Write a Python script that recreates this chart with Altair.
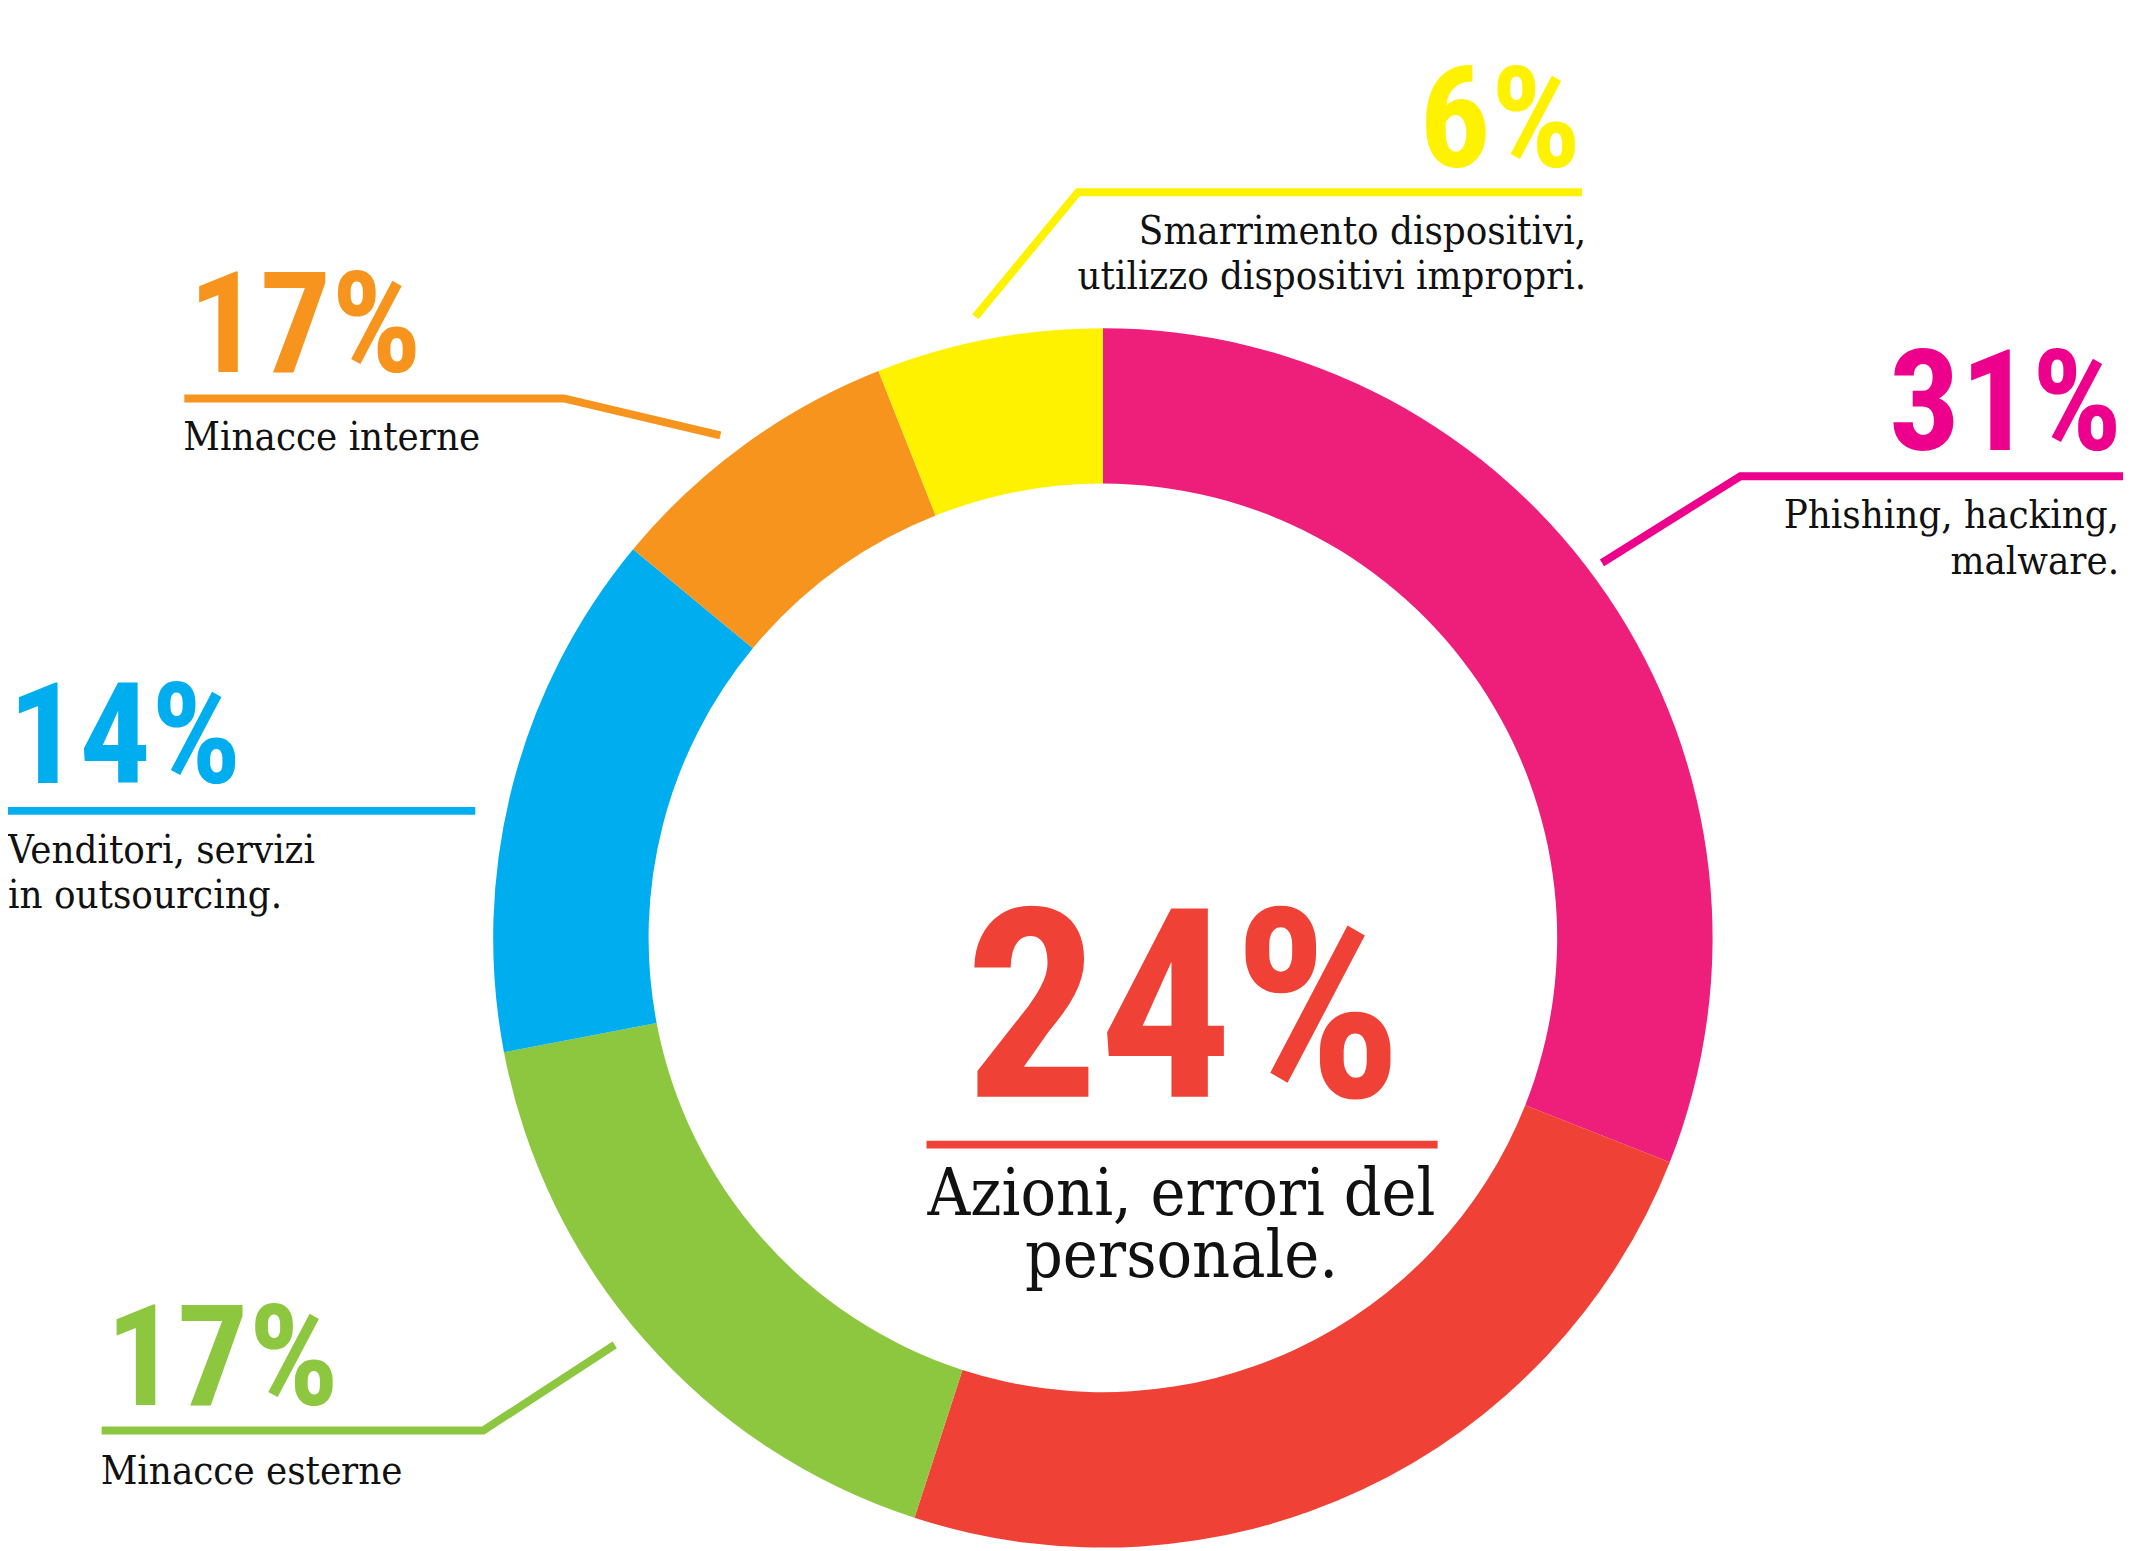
import altair as alt
import pandas as pd

# ---- data ----
categories = ["phishing", "personale", "esterne", "venditori", "interne", "smarrimento"]
arc_values = [31, 24, 17, 14, 8, 6]          # drawn share of the ring
label_texts = ["31%", "24%", "17%", "14%", "17%", "6%"]   # printed labels
descriptions = [
    "Phishing, hacking,\nmalware.",
    "Azioni, errori del\npersonale.",
    "Minacce esterne",
    "Venditori, servizi\nin outsourcing.",
    "Minacce interne",
    "Smarrimento dispositivi,\nutilizzo dispositivi impropri.",
]
arc_colors = ["#ED1F7B", "#EF4136", "#8DC63F", "#00AEEF", "#F7941E", "#FFF200"]
label_colors = ["#EC008C", "#EF4136", "#8DC63F", "#00AEEF", "#F7941E", "#FFF200"]

# ---- layout (pixels in the view) ----
W, H = 2128, 1543
CX, CY = 1099, 930.5
R_OUT, R_IN = 612, 456

pct_pos = {  # x, y(baseline), align, size
    "phishing": (2122, 441, "right", 142),
    "personale": (1180, 1090, "center", 266),
    "esterne": (98, 1399, "left", 142),
    "venditori": (0, 775, "left", 142),
    "interne": (181, 362, "left", 142),
    "smarrimento": (1579, 157, "right", 142),
}
desc_pos = {  # x, y(first baseline), align, size, line height
    "phishing": (2119, 519, "right", 40, 46),
    "personale": (1178, 1209, "center", 66, 62),
    "esterne": (93, 1479, "left", 40, 45),
    "venditori": (0, 855, "left", 40, 45),
    "interne": (176, 441, "left", 40, 45),
    "smarrimento": (1584, 234, "right", 40, 45),
}
leaders = {
    "phishing": [(2123, 467), (1739, 467), (1600, 554)],
    "personale": [(922, 1138), (1435, 1138)],
    "esterne": [(94, 1425), (477, 1425), (609, 1339)],
    "venditori": [(0, 803), (469, 803)],
    "interne": [(177, 389), (558, 389), (715, 426)],
    "smarrimento": [(1580, 182), (1074, 182), (971, 307)],
}

arc_df = pd.DataFrame({
    "cat": categories,
    "value": arc_values,
    "order": list(range(len(categories))),
    "color": arc_colors,
})

lab_rows = []
for c, t, d, col in zip(categories, label_texts, descriptions, label_colors):
    px, py, pa, ps = pct_pos[c]
    dx, dy, da, ds, dl = desc_pos[c]
    lab_rows.append({"cat": c, "pct": t, "desc": d, "color": col,
                     "px": px, "py": py, "palign": pa, "psize": ps,
                     "dx": dx, "dy": dy, "dalign": da, "dsize": ds, "dlh": dl})
lab_df = pd.DataFrame(lab_rows)

line_rows = []
for c, col in zip(categories, label_colors):
    for i, (x, y) in enumerate(leaders[c]):
        line_rows.append({"cat": c, "i": i, "x": x, "y": y, "color": col})
line_df = pd.DataFrame(line_rows)

ring = alt.Chart(arc_df).mark_arc(innerRadius=R_IN, outerRadius=R_OUT).encode(
    theta=alt.Theta("value:Q", stack=True),
    order=alt.Order("order:Q", sort="ascending"),
    color=alt.Color("color:N", scale=None, legend=None),
    x=alt.value(CX),
    y=alt.value(CY),
)

lines = alt.Chart(line_df).mark_line(strokeWidth=8, strokeCap="butt", strokeJoin="miter").encode(
    x=alt.X("x:Q", scale=None, axis=None),
    y=alt.Y("y:Q", scale=None, axis=None),
    detail="cat:N",
    order="i:Q",
    color=alt.Color("color:N", scale=None, legend=None),
)

layers = [ring, lines]
for align in ["left", "right", "center"]:
    for size in sorted(set(v[3] for v in pct_pos.values())):
        sub = alt.Chart(lab_df).transform_filter(
            (alt.datum.palign == align) & (alt.datum.psize == size)
        ).mark_text(font="Roboto Condensed", fontWeight="bold", fontSize=size,
                    align=align, baseline="alphabetic").encode(
            x=alt.X("px:Q", scale=None, axis=None),
            y=alt.Y("py:Q", scale=None, axis=None),
            text="pct:N",
            color=alt.Color("color:N", scale=None, legend=None),
        )
        layers.append(sub)
    for size, lh in sorted(set((v[3], v[4]) for v in desc_pos.values())):
        sub = alt.Chart(lab_df).transform_filter(
            (alt.datum.dalign == align) & (alt.datum.dsize == size) & (alt.datum.dlh == lh)
        ).mark_text(font="DejaVu Serif Condensed", fontWeight="normal", fontSize=size,
                    align=align, baseline="alphabetic", lineBreak="\n", lineHeight=lh,
                    color="#111111").encode(
            x=alt.X("dx:Q", scale=None, axis=None),
            y=alt.Y("dy:Q", scale=None, axis=None),
            text="desc:N",
        )
        layers.append(sub)

chart = alt.layer(*layers).properties(
    width=W, height=H, autosize="none", padding=0, background="white"
).configure_view(stroke=None)

chart.save("out.html", embed_options={"renderer": "svg", "actions": False})
